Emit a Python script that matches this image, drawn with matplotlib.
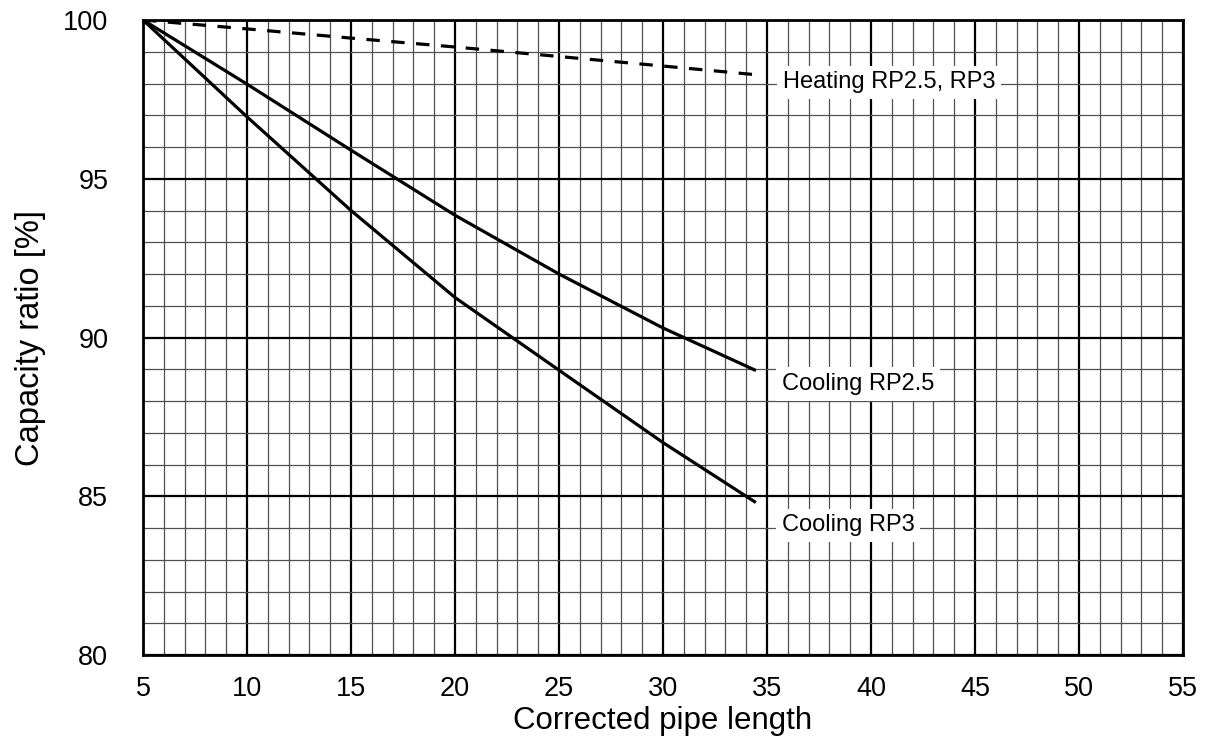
import matplotlib
matplotlib.use("Agg")
import matplotlib.pyplot as plt
from matplotlib import font_manager
from matplotlib.ticker import MultipleLocator

# ---- data ----
heat_x = [5, 10, 15, 20, 25, 30, 34.4]
heat_y = [100, 99.72, 99.43, 99.15, 98.85, 98.55, 98.28]

c25_x = [5, 10, 15, 20, 25, 30, 34.4]
c25_y = [100, 97.98, 95.9, 93.85, 92.0, 90.3, 88.98]

c3_x = [5, 10, 15, 20, 25, 30, 34.4]
c3_y = [100, 96.95, 94.0, 91.26, 88.97, 86.69, 84.83]

x_ticks = [5, 10, 15, 20, 25, 30, 35, 40, 45, 50, 55]
y_ticks = [80, 85, 90, 95, 100]

labels = ["Heating RP2.5, RP3", "Cooling RP2.5", "Cooling RP3"]
label_pos = [(35.75, 97.85), (35.7, 88.35), (35.7, 83.9)]

names = {f.name for f in font_manager.fontManager.ttflist}
base = "Liberation Sans" if "Liberation Sans" in names else "DejaVu Sans"
narrow = "Liberation Sans Narrow" if "Liberation Sans Narrow" in names else base
plt.rcParams['font.family'] = [base, "DejaVu Sans"]

fig = plt.figure(figsize=(12.05, 7.56), dpi=100)
ax = fig.add_axes([143/1205, 1 - 655/756, (1183-143)/1205, (655-20)/756])

ax.set_xlim(5, 55)
ax.set_ylim(80, 100)
ax.xaxis.set_minor_locator(MultipleLocator(1))
ax.yaxis.set_minor_locator(MultipleLocator(1))
ax.set_xticks(x_ticks)
ax.set_yticks(y_ticks)

ax.grid(which='major', color='black', linewidth=1.6, zorder=1)
ax.grid(which='minor', color='#505050', linewidth=0.9, zorder=1)
ax.set_axisbelow(True)
for s in ax.spines.values():
    s.set_linewidth(2.0)
    s.set_color('black')

tick_size = 21.5 if narrow != base else 19.5
ax.tick_params(which='both', length=0)
ax.tick_params(axis='x', pad=15)
ax.tick_params(axis='y', pad=25)
for lab in ax.get_xticklabels() + ax.get_yticklabels():
    lab.set_family([narrow, "DejaVu Sans"])
    lab.set_fontsize(tick_size)

ax.plot(heat_x, heat_y, color='black', linewidth=2.3, dashes=(4.2, 3.6), zorder=3)
ax.plot(c25_x, c25_y, color='black', linewidth=2.3, zorder=3)
ax.plot(c3_x, c3_y, color='black', linewidth=2.3, zorder=3)

for text, (tx, ty) in zip(labels, label_pos):
    ax.text(tx, ty, text, fontsize=17, va='baseline', ha='left', zorder=4,
            bbox=dict(facecolor='white', edgecolor='none', pad=4))

ax.set_xlabel("Corrected pipe length", fontsize=22.5, labelpad=3)
ax.set_ylabel("Capacity ratio [%]", fontsize=23.5, labelpad=12)

fig.savefig("out.png", dpi=100)
